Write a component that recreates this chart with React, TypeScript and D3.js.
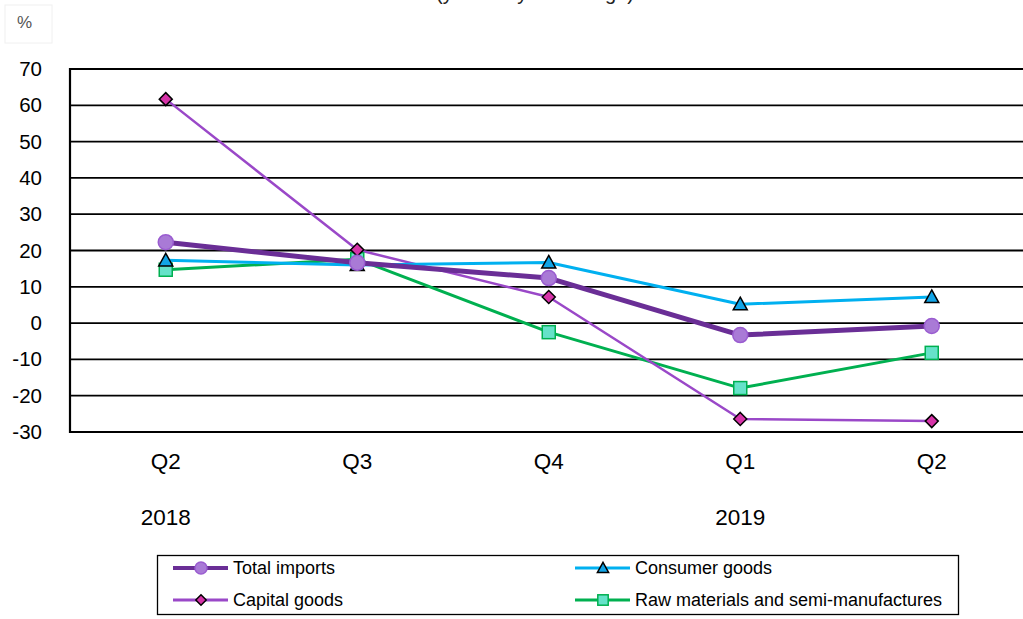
import { useEffect, useRef } from 'react'
import * as d3 from 'd3'

const quarters = ['Q2', 'Q3', 'Q4', 'Q1', 'Q2']
const years = [
  { label: '2018', index: 0 },
  { label: '2019', index: 3 },
]
const yTicks = [70, 60, 50, 40, 30, 20, 10, 0, -10, -20, -30]

const totalImports = [22.3, 16.6, 12.4, -3.3, -0.8]
const consumerGoods = [17.3, 16.0, 16.7, 5.2, 7.2]
const capitalGoods = [61.7, 20.2, 7.2, -26.4, -27.0]
const rawMaterials = [14.7, 17.6, -2.5, -17.9, -8.2]

interface Series {
  name: string
  values: number[]
  line: string
  width: number
  marker: 'circle' | 'triangle' | 'diamond' | 'square'
  fill: string
  stroke: string
}

const series: Series[] = [
  { name: 'Total imports', values: totalImports, line: '#6a2e96', width: 5, marker: 'circle', fill: '#a97ad6', stroke: '#9a5cd0' },
  { name: 'Consumer goods', values: consumerGoods, line: '#00b0f0', width: 3, marker: 'triangle', fill: '#12a4e6', stroke: '#000' },
  { name: 'Capital goods', values: capitalGoods, line: '#9a48c8', width: 2.5, marker: 'diamond', fill: '#d633a8', stroke: '#000' },
  { name: 'Raw materials and semi-manufactures', values: rawMaterials, line: '#00b050', width: 3, marker: 'square', fill: '#66e2c9', stroke: '#00b050' },
]

const W = 1023
const H = 619
const FONT = 'Arial, "Liberation Sans", sans-serif'

function drawMarker(g: d3.Selection<SVGGElement, unknown, null, undefined>, s: Series, cx: number, cy: number, scale = 1) {
  if (s.marker === 'circle') {
    g.append('circle').attr('cx', cx).attr('cy', cy).attr('r', 7.5 * scale)
      .attr('fill', s.fill).attr('stroke', s.stroke).attr('stroke-width', 1.5)
  } else if (s.marker === 'triangle') {
    const r = 7 * scale
    g.append('path')
      .attr('d', `M${cx},${cy - r} L${cx + r},${cy + r * 0.8} L${cx - r},${cy + r * 0.8} Z`)
      .attr('fill', s.fill).attr('stroke', s.stroke).attr('stroke-width', 1.5)
  } else if (s.marker === 'diamond') {
    const r = 6.5 * scale
    g.append('path')
      .attr('d', `M${cx},${cy - r} L${cx + r},${cy} L${cx},${cy + r} L${cx - r},${cy} Z`)
      .attr('fill', s.fill).attr('stroke', s.stroke).attr('stroke-width', 1.5)
  } else {
    const r = 6.5 * scale
    g.append('rect').attr('x', cx - r).attr('y', cy - r).attr('width', 2 * r).attr('height', 2 * r)
      .attr('fill', s.fill).attr('stroke', s.stroke).attr('stroke-width', 1.5)
  }
}

export default function App() {
  const svgRef = useRef<SVGSVGElement>(null)

  useEffect(() => {
    if (!svgRef.current) return
    const svg = d3.select(svgRef.current)
    svg.selectAll('*').remove()

    const margin = { top: 69, left: 70, bottom: 432 }
    const x = d3.scaleBand<number>()
      .domain(quarters.map((_, i) => i))
      .range([margin.left, margin.left + 5 * 191.5])
    const y = d3.scaleLinear().domain([-30, 70]).range([margin.bottom, margin.top])
    const cx = (i: number) => x(i)! + x.bandwidth() / 2

    svg.append('rect').attr('width', W).attr('height', H).attr('fill', '#fff')

    // title, cut off by the top edge as in the source
    svg.append('text')
      .attr('x', 535).attr('y', -0.5)
      .attr('text-anchor', 'middle')
      .attr('font-family', FONT).attr('font-size', 20).attr('fill', '#222')
      .text('(year-on-year change)')

    // unit label
    svg.append('rect').attr('x', 5).attr('y', 5).attr('width', 47).attr('height', 38)
      .attr('fill', '#fff').attr('stroke', '#f0f0f0')
    svg.append('text')
      .attr('x', 17).attr('y', 28)
      .attr('font-family', FONT).attr('font-size', 17).attr('fill', '#555')
      .text('%')

    // grid
    yTicks.forEach(t => {
      svg.append('line')
        .attr('x1', margin.left).attr('x2', W)
        .attr('y1', y(t)).attr('y2', y(t))
        .attr('stroke', '#000').attr('stroke-width', t === 70 || t === -30 ? 2.2 : 1.8)
      svg.append('text')
        .attr('x', 42).attr('y', y(t) + 7)
        .attr('text-anchor', 'end')
        .attr('font-family', FONT).attr('font-size', 20.5).attr('fill', '#000')
        .text(String(t))
    })
    svg.append('line')
      .attr('x1', margin.left).attr('x2', margin.left)
      .attr('y1', y(70) - 1).attr('y2', y(-30) + 1)
      .attr('stroke', '#000').attr('stroke-width', 2.2)

    // x labels
    quarters.forEach((q, i) => {
      svg.append('text')
        .attr('x', cx(i)).attr('y', 469)
        .attr('text-anchor', 'middle')
        .attr('font-family', FONT).attr('font-size', 22.5).attr('fill', '#000')
        .text(q)
    })
    years.forEach(yr => {
      svg.append('text')
        .attr('x', cx(yr.index)).attr('y', 525)
        .attr('text-anchor', 'middle')
        .attr('font-family', FONT).attr('font-size', 22.5).attr('fill', '#000')
        .text(yr.label)
    })

    // lines
    const line = d3.line<number>().x((_, i) => cx(i)).y(d => y(d))
    const drawOrder = [3, 2, 1, 0]
    drawOrder.forEach(k => {
      const s = series[k]
      svg.append('path')
        .attr('d', line(s.values))
        .attr('fill', 'none').attr('stroke', s.line).attr('stroke-width', s.width)
        .attr('stroke-linejoin', 'round')
    })
    drawOrder.forEach(k => {
      const s = series[k]
      const g = svg.append('g')
      s.values.forEach((v, i) => drawMarker(g, s, cx(i), y(v)))
    })

    // legend
    const lg = svg.append('g')
    lg.append('rect').attr('x', 157.5).attr('y', 555.5).attr('width', 801).attr('height', 59)
      .attr('fill', '#fff').attr('stroke', '#000').attr('stroke-width', 1.3)
    const colX = [173, 575]
    const rowY = [568, 600]
    series.forEach((s, j) => {
      const lx = colX[j % 2]
      const ly = rowY[Math.floor(j / 2)]
      const g = lg.append('g')
      g.append('line').attr('x1', lx).attr('x2', lx + 55).attr('y1', ly).attr('y2', ly)
        .attr('stroke', s.line).attr('stroke-width', s.width === 5 ? 4 : 3)
      drawMarker(g, s, lx + 28, ly, 0.8)
      g.append('text')
        .attr('x', lx + 60).attr('y', ly + 6)
        .attr('font-family', FONT).attr('font-size', 18).attr('fill', '#000')
        .text(s.name)
    })
  }, [])

  return (
    <div style={{ position: 'absolute', left: 0, top: 0 }}>
      <svg ref={svgRef} width={W} height={H} style={{ display: 'block' }} />
    </div>
  )
}
